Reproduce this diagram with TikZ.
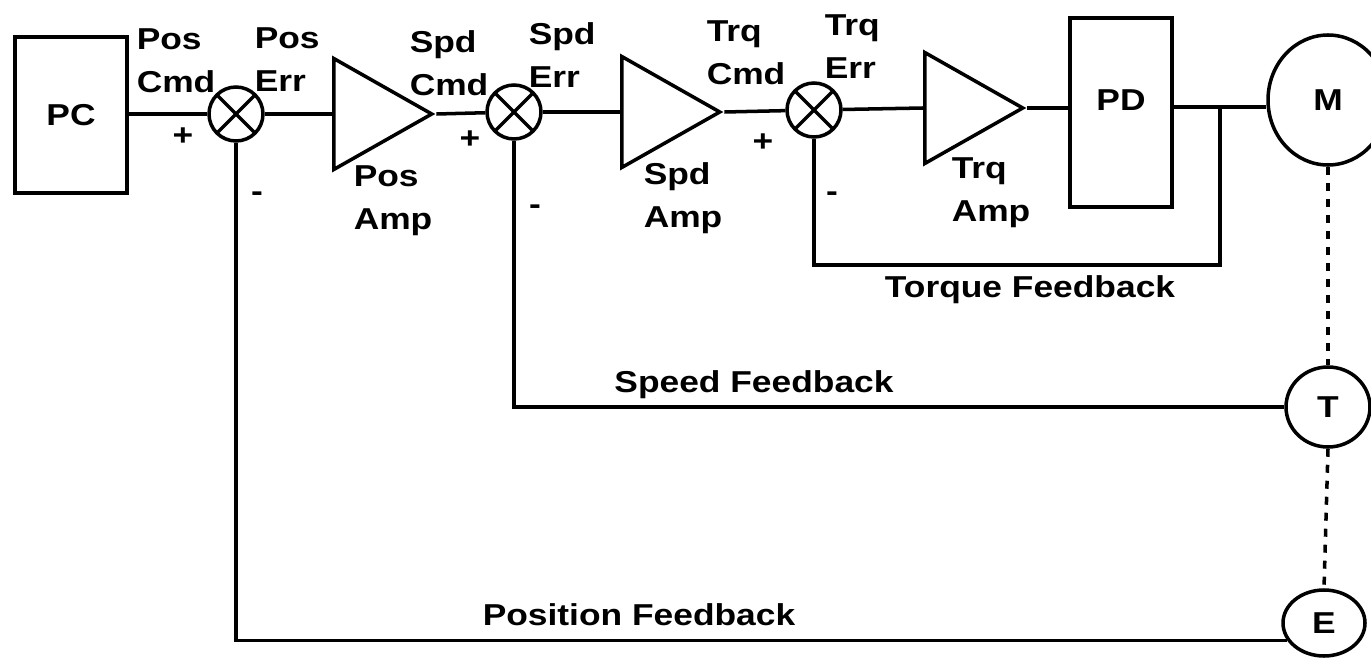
\documentclass[tikz,border=0pt]{standalone}
\usepackage{fontspec}
\setmainfont{Liberation Sans}[FakeStretch=1.17]
\usepackage{tikz}
\usetikzlibrary{shapes.geometric,positioning,calc}

\begin{document}
\begin{tikzpicture}[
      line width=1pt,
      lbl/.style={font=\fontsize{8.6}{12.2}\selectfont\bfseries, align=left,
        inner sep=0pt, anchor=west},
      blk/.style={draw, rectangle, inner sep=0pt,
        font=\fontsize{8.6}{12.2}\selectfont\bfseries},
      sumj/.style={draw, circle, minimum size=0.54cm, inner sep=0pt,
        path picture={
          \draw (path picture bounding box.north west) --
            (path picture bounding box.south east);
          \draw (path picture bounding box.north east) --
            (path picture bounding box.south west);}},
      amp/.style={draw, isosceles triangle, isosceles triangle stretches,
        inner sep=0pt, minimum width=1.11cm, minimum height=0.98cm,
        anchor=lower side},
      sensor/.style={draw, ellipse, inner sep=0pt,
        font=\fontsize{8.6}{12.2}\selectfont\bfseries},
      shaft/.style={dash pattern=on 0.08cm off 0.08cm}
    ]
      \useasboundingbox (0,0) rectangle (13.71,-6.61);
      \clip (0,0) rectangle (13.71,-6.61);

      % Forward path
      \node[blk, minimum width=1.12cm, minimum height=1.56cm] (pc)
        at (0.71,-1.15) {PC};
      \node[sumj] (sumpos) at (2.36,-1.14) {};
      \node[amp] (amppos) at (3.32,-1.14) {};
      \node[sumj] (sumspd) at (5.14,-1.12) {};
      \node[amp] (ampspd) at (6.20,-1.12) {};
      \node[sumj] (sumtrq) at (8.14,-1.10) {};
      \node[amp] (amptrq) at (9.23,-1.08) {};
      \node[blk, minimum width=1.02cm, minimum height=1.89cm,
        text depth=0.25cm] (pd) at (11.21,-1.125) {PD};
      \node[sensor, minimum width=1.2cm, minimum height=1.3cm] (motor)
        at (13.28,-1.00) {M};
      \node[sensor, minimum width=0.84cm, minimum height=0.8cm] (tacho)
        at (13.28,-4.07) {T};
      \node[sensor, minimum width=0.82cm, minimum height=0.66cm] (enc)
        at (13.24,-6.23) {E};
      \coordinate (tq) at (12.20,-1.07);
      \coordinate (tqb) at (12.20,-2.65);

      \draw (pc.east |- sumpos) -- (sumpos);
      \draw (sumpos) -- (amppos.lower side);
      \draw (amppos.apex) -- (sumspd);
      \draw (sumspd) -- (ampspd.lower side);
      \draw (ampspd.apex) -- (sumtrq);
      \draw (sumtrq) -- (amptrq.lower side);
      \draw (amptrq.apex) -- (pd.west |- amptrq.apex);
      \draw (pd.east |- tq) -- (tq) -- (motor.west |- tq);

      % Feedback loops
      \draw (tq) -- (tqb) -| (sumtrq);
      \draw (tacho.west) -| (sumspd);
      \draw (enc.205) -| (sumpos);

      % Shaft
      \draw[shaft] (motor.south) -- (tacho.north);
      \draw[shaft] (tacho.south) -- (enc.north);

      % Signal labels
      \node[lbl] (lposcmd) at (1.35,-0.61) {Pos\\Cmd};
      \node[lbl] (lposerr) at (2.53,-0.60) {Pos\\Err};
      \node[lbl] (lspdcmd) at (4.08,-0.63) {Spd\\Cmd};
      \node[lbl] (lspderr) at (5.27,-0.55) {Spd\\Err};
      \node[lbl] (ltrqcmd) at (7.05,-0.53) {Trq\\Cmd};
      \node[lbl] (ltrqerr) at (8.23,-0.47) {Trq\\Err};
      \node[lbl] (lposamp) at (3.52,-2.01) {Pos\\Amp};
      \node[lbl] (lspdamp) at (6.42,-1.98) {Spd\\Amp};
      \node[lbl] (ltrqamp) at (9.50,-1.93) {Trq\\Amp};

      % Signs
      \node[lbl, anchor=center] (ppos) at (1.83,-1.37) {+};
      \node[lbl, anchor=center] (pspd) at (4.70,-1.40) {+};
      \node[lbl, anchor=center] (ptrq) at (7.63,-1.43) {+};
      \node[lbl, anchor=center] (mpos) at (2.57,-1.97) {-};
      \node[lbl, anchor=center] (mspd) at (5.35,-2.10) {-};
      \node[lbl, anchor=center] (mtrq) at (8.32,-1.97) {-};

      % Loop names
      \node[lbl, anchor=center] (ltfb) at (10.30,-2.90) {Torque Feedback};
      \node[lbl, anchor=center] (lsfb) at (7.54,-3.85) {Speed Feedback};
      \node[lbl, anchor=center] (lpfb) at (6.39,-6.15) {Position Feedback};
    \end{tikzpicture}
\end{document}
